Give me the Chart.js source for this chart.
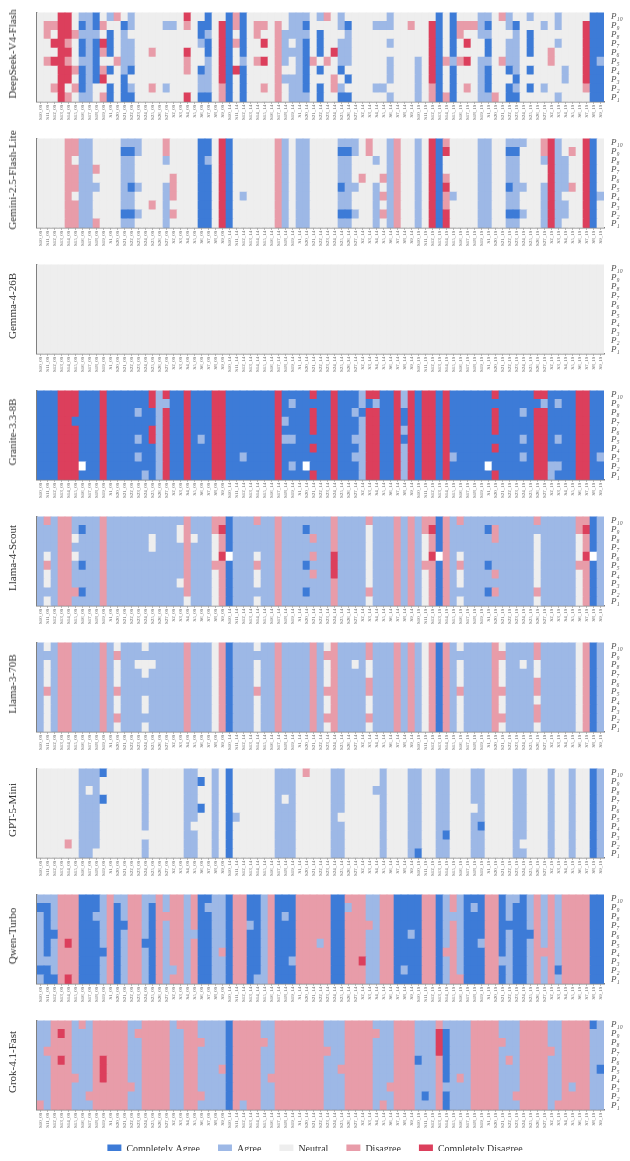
<!DOCTYPE html>
<html><head><meta charset="utf-8">
<script src="https://cdn.jsdelivr.net/npm/chart.js@4.4.1/dist/chart.umd.min.js"></script>
<style>
html,body{margin:0;padding:0;background:#fff;}
body{width:630px;height:1161px;position:relative;overflow:hidden;}
.panel{position:absolute;left:0;width:630px;height:126px;}
.title{position:absolute;left:12px;font-family:"Liberation Serif","Times New Roman",serif;font-size:11px;color:#333;white-space:nowrap;transform:translate(-50%,-50%) rotate(-90deg);}
#legendWrap{position:absolute;left:0;top:1126px;width:630px;height:50px;}
</style></head><body>
<script>
// ---------- data ----------
const statements = ['S10','S11','S12','S13','S14','S15','S16','S17','S18','S19','S1','S20','S21','S22','S23','S24','S25','S26','S27','S2','S3','S4','S5','S6','S7','S8','S9'];
const suffixes = ['09','14','19'];
const personas = ['P₁₀','P₉','P₈','P₇','P₆','P₅','P₄','P₃','P₂','P₁'];
const categories = ['Completely Agree','Agree','Neutral','Disagree','Completely Disagree'];
// codes: A = Completely Agree, a = Agree, . = Neutral, d = Disagree, D = Completely Disagree, w = no answer
// each model: rows from P10 (top) to P1 (bottom); each row written in blocks of 10 statement columns
const deepseekV4Flash = [
["...DD.aaA.","ad.a......",".D..A..AdA","......aaa.","ad.a......","a......A.A","...aa.da..","a...a....A","A"].join(''),
[".ddDD.AaAd","..Aa....aa",".d.AA.DAdA",".dd.d.aaA.","...aA...aa","a..d..DA.A","dddaA..aA.","..a.a...DA","A"].join(''),
[".d.DDdaaa.","A.a.......","...Aa.DA.A",".d..daaaa.","A...a.....","......DA.A","d..aa...a.","A.......DA","A"].join(''),
["..DDd.AaAD","A.aa......","...aA.DAdA","..D.da.aA.","A..aa.....","a.....DA.A",".D..A..aa.","A...a...DA","A"].join(''),
["...DD.AaAd","A.aa..d...",".D..A.DA.A","....daaaA.","A.Daa.....","......DA.A","....A..aa.","A..d....DA","A"].join(''),
[".dDDd.aaA.",".daa......",".d..a.DA.a",".dD.da.aAd",".d.aa.....","a...a.DAda","dD.aa.daa.","...d....DA","a"].join(''),
["...DDdAaAd","A.aA......",".d.Aa.DADA","....d..aA.","A..A......","a...a.DA.A","...aA..Aa.","A....a..DA","A"].join(''),
["...DD.AaAD","..A.......","...aa.DA.A","....daaaA.","..d.A.....","a...a.DA.A","...aA...A.",".....a..DA","A"].join(''),
["..dD.dAa..","A.Aa..d.a.","...aa.dA.A","..d.d.aaA.","A.da....aa","....a.dA.A",".d.aA..Aa.","A.a.....dA","A"].join(''),
["...Dd.aa.d","A.AA......",".D.AA.dA.A","....d.aaa.","A..AA.....","a...a.dAdA","...aad.AA.","....a....A","A"].join('')
];
const gemini25FlashLite = [
["....ddaa..","..aaa...d.","...AA.DA..","....da.aa.","...aaa.d..","ad..a.DAd.","...aa..aaa","..dDa...DA","."].join(''),
["....ddaa..","..AAa...d.","...AA.DA..","....da.aa.","...AAa.d..","ad..a.DAD.","...aa..AA.","..dDa.d.DA","."].join(''),
["....d.aa..","..aa....a.","...Aa.DA..","....da.aa.","...aa...a.","ad..a.DA..","...aa..aa.","..aDaa..DA","."].join(''),
["....ddaad.","..aa......","...AA.DA..","....da.aa.","...aa.....","ad..a.DA..","...aa..aa.","...Daa..DA","."].join(''),
["....ddaa..","..aa.....d","...AA.DA..","....da.aa.","...aa.d..d","ad..a.DAd.","...aa..aa.","...Daa..DA","."].join(''),
["....ddaaa.","..aAa...ad","...AA.DA..","....da.aa.","...Aaa..a.","ad..a.DAD.","...aa..Aaa","..aDaad.DA","."].join(''),
["....d.aa..","..aa....ad","...AA.DA.a","....da.aa.","...aa...ad","ad..a.DAda","...aa..aa.","..aDa...DA","a"].join(''),
["....ddaa..","..aa..d.a.","...AA.DA..","....da.aa.","...aa...a.","ad..a.DAd.","...aa..aa.","..aDaa..DA","."].join(''),
["....ddaa..","..AAa...ad","...AA.DA..","....da.aa.","...AAa..ad","ad..a.DAD.","...aa..AAa","..aDaa..DA","."].join(''),
["....ddaad.","..aa....a.","...AA.DA..","....da.aa.","...aa...a.","ad..a.DAD.","...aa..aa.","..aDa...DA","."].join('')
];
const gemma426B = [
["..........","..........","..........","..........","..........","..........","..........","..........","."].join(''),
["..........","..........","..........","..........","..........","..........","..........","..........","."].join(''),
["..........","..........","..........","..........","..........","..........","..........","..........","."].join(''),
["..........","..........","..........","..........","..........","..........","..........","..........","."].join(''),
["..........","..........","..........","..........","..........","..........","..........","..........","."].join(''),
["..........","..........","..........","..........","..........","..........","..........","..........","."].join(''),
["..........","..........","..........","..........","..........","..........","..........","..........","."].join(''),
["..........","..........","..........","..........","..........","..........","..........","..........","."].join(''),
["..........","..........","..........","..........","..........","..........","..........","..........","."].join(''),
["..........","..........","..........","..........","..........","..........","..........","..........","."].join('')
];
const granite33_8B = [
["AAADDDAAAD","AAAAAADaDA","ADAAADDAAA","AAAADAAAAD","AADAAAaDDA","ADaDADDADA","AAAAADAAAA","ADDAAAADDA","A"].join(''),
["AAADDDAAAD","AAAAAADaaA","ADAAADDAAA","AAAADAaAAA","AADAAAaAaA","ADaDADDADA","AAAAAAAAAA","AAaAaAADDA","A"].join(''),
["AAADDDAAAD","AAAAaAAaDA","ADAAADDAAA","AAAADAAAAD","AADAAaADDA","ADADADDADA","AAAAADAAAa","ADDAAAADDA","A"].join(''),
["AAADDAAAAD","AAAAAAAaDA","ADAAADDAAA","AAAADaAAAD","AADAAAaDDA","ADADADDADA","AAAAADAAAA","ADDAAAADDA","A"].join(''),
["AAADDDAAAD","AAAAAADaDA","ADAAADDAAA","AAAADAAAAD","AADAAAaDDA","ADaDADDADA","AAAAADAAAA","ADDAAAADDA","A"].join(''),
["AAADDDAAAD","AAAAaADaDA","ADAaADDAAA","AAAADaaAAA","AADAAaaDDA","ADADADDADA","AAAAAAAAAa","ADDAaAADDA","A"].join(''),
["AAADDDAAAD","AAAAAAAaDA","ADAAADDAAA","AAAADAAAAD","AADAAAaDDA","ADaDADDADA","AAAAADAAAA","ADDAAAADDA","A"].join(''),
["AAADDDAAAD","AAAAaAAaDA","ADAAADDAAa","AAAADAAAAA","AADAAaaDDA","ADaDADDADa","AAAAAAAAAa","ADDAAAADDA","a"].join(''),
["AAADDDwAAD","AAAAAAAaDA","ADAAADDAAA","AAAADAaAwA","AADAAAaDDA","ADaDADDADA","AAAAwAAAAA","ADDaaAADDA","A"].join(''),
["AAADDDAAAD","AAAAAaAaDA","ADAAADDAAA","AAAADAAAAD","AADAAAaDDA","ADaDADDADA","AAAAADAAAA","ADDaAAADDA","A"].join('')
];
const llama4Scout = [
["adaddaaaad","aaaaaaaaaa","adaaaddAaa","adaadaaaaa","aadaaaadaa","adadaddAda","daaaaaaaaa","adaaaaaddA","a"].join(''),
["aaaddaAaad","aaaaaaaaaa",".daaadDAaa","aaaadaaaAa","aadaaaa.aa","adadadDAda","aaaaAdaaaa","aaaaaaadDA","a"].join(''),
["aaadd.aaad","aaaaaa.aaa",".d.aa.dAaa","aaaadaaaad","aadaaaa.aa","adada.dAda","aaaaadaaaa","a.aaaaa.dA","a"].join(''),
["aaaddaaaad","aaaaaa.aaa","adaaa.dAaa","aaaadaaaaa","aadaaaa.aa","adada.dAda","aaaaaaaaaa","a.aaaaa.dA","a"].join(''),
["a.add.aaad","aaaaaaaaaa","adaaa.Dwaa","a.aadaaaad","aaDaaaa.aa","adada.Dwda",".aaaaaaaaa","a.aaaaa.Dw","a"].join(''),
["adaddaAaad","aaaaaaaaaa","adaaaddAaa","adaadaaaAa","aaDaaaa.aa","adadaddAda","daaaAaaaaa","a.aaaaaddA","a"].join(''),
["a.addaaaad","aaaaaaaaaa","adaaa.dAaa","a.aadaaaad","aaDaaaa.aa","adada.dAda",".aaaadaaaa","a.aaaaa.dA","a"].join(''),
["a.addaaaad","aaaaaaaaaa",".daaa.dAaa","a.aadaaaaa","aadaaaa.aa","adada.dAda",".aaaaaaaaa","a.aaaaa.dA","a"].join(''),
["aaadddAaad","aaaaaaaaaa","adaaa.dAaa","aaaadaaaAa","aadaaaadaa","adada.dAda","aaaaAdaaaa","adaaaaa.dA","a"].join(''),
["a.addaaaad","aaaaaaaaaa","a.aaa.dAaa","a.aadaaaaa","aadaaaa.aa","adada.dAda",".aaaaaaaaa","a.aaaaa.dA","a"].join('')
];
const llama3_70B = [
["a.addaaaad","a.aaa.aaaa","adaaa.dAaa","a.aadaaaad","a.daaaadaa","adada.dAda",".aaaad.aaa","adaaaaa.dA","a"].join(''),
["aaaddaaaad","adaaaaaaaa","adaaa.dAaa","aaaadaaaad","addaaaadaa","adada.dAda","aaaaaddaaa","adaaaaa.dA","a"].join(''),
["a.addaaaad","a.aa...aaa","adaaa.dAaa","a.aadaaaad","a.daa.a.aa","adada.dAda",".aaaad.aa.","a.aaaaa.dA","a"].join(''),
["a.addaaaad","a.aaa.aaaa","adaaa.dAaa","a.aadaaaad","a.daaaa.aa","adada.dAda",".aaaad.aaa","a.aaaaa.dA","a"].join(''),
["a.addaaaad","a.aaaaaaaa","adaaa.dAaa","a.aadaaaad","a.daaaadaa","adada.dAda",".aaaad.aaa","adaaaaa.dA","a"].join(''),
["adaddaaaad","adaaaaaaaa","adaaa.dAaa","adaadaaaad","addaaaadaa","adada.dAda","daaaaddaaa","adaaaaa.dA","a"].join(''),
["a.addaaaad","a.aaa.aaaa","adaaa.dAaa","a.aadaaaad","a.daaaa.aa","adada.dAda",".aaaad.aaa","a.aaaaa.dA","a"].join(''),
["a.addaaaad","a.aaa.aaaa","adaaa.dAaa","a.aadaaaad","a.daaaa.aa","adada.dAda",".aaaad.aaa","adaaaaa.dA","a"].join(''),
["a.addaaaad","adaaaaaaaa","adaaa.dAaa","a.aadaaaad","addaaaadaa","adada.dAda",".aaaaddaaa","adaaaaa.dA","a"].join(''),
["a.addaaaad","a.aaa.aaaa","adaaa.dAaa","a.aadaaaad","a.daaaa.aa","adada.dAda",".aaaad.aaa","a.aaaaa.dA","a"].join('')
];
const gpt5Mini = [
["......aaaA",".....a....",".aa..a.A..","....aaa.d.","..aa.....a","...aa..aa.","..aa....aa","...a..a..A","a"].join(''),
["......aaa.",".....a....",".aaA.a.A..","....aaa...","..aa.....a","...aa..aa.","..aa....aa","...a..a..A","a"].join(''),
["......a.a.",".....a....",".aa..a.A..","....aaa...","..aa....aa","...aa..aa.","..aa....aa","...a..a..A","a"].join(''),
["......aaaA",".....a....",".aa..a.A..","....a.a...","..aa.....a","...aa..aa.","..aa....aa","...a..a..A","a"].join(''),
["......aaa.",".....a....",".aaA.a.A..","....aaa...","..aa.....a","...aa..aa.","...a....aa","...a..a..A","a"].join(''),
["......aaa.",".....a....",".aa..a.Aa.","....aaa...","..a......a","...aa..aa.","..aa....aa","...a..a..A","a"].join(''),
["......aaa.",".....a....",".a...a.A..","....aaa...","..aa.....a","...aa..aa.","..aA....aa","...a..a..A","a"].join(''),
["......aaa.","..........",".aa..a.A..","....aaa...","..aa.....a","...aa..aA.","..aa....aa","...a..a..A","a"].join(''),
["....d.aaa.",".....a....",".aa..a.A..","....aaa...","..aa.....a","...aa..aa.","..aa....a.","...a..a..A","a"].join(''),
["......aa..",".....a....",".aa..a.A..","....aaa...","..aa.....a","...aA..aa.","..aa....aa","...a..a..A","a"].join('')
];
const qwenTurbo = [
["aaadddAAAa","daaddaadad","dadAAaaAdd","AAadAAAddd","ddAAdddaad","dAAAAddAad","aAAAddAaaA","adadaddddA","A"].join(''),
["AAadddAAAa","dAaddaAdad","dadAaaaAdd","AAadAAAddd","ddAAaddaad","dAAAAddAad","aAaAddAaAA","adadaddddA","A"].join(''),
["aAadddAAaa","dAaddaAddd","dadAAaaAdd","AAadAaAddd","ddAAdddaad","dAAAAddAaa","aAAAddAaAA","adadaddddA","A"].join(''),
["aAadddAAAa","dAAddaAdad","dadAAaaAdd","aAadAAAddd","ddAAddddad","dAAAAddAad","aAAAddAAAA","adadaddddA","A"].join(''),
["aAAdddAAAa","dAaddaAdad","daaAAaaAdd","AAadAAAddd","ddAAdddaad","dAAaAddAad","aAAAddAaAA","AdadaddddA","A"].join(''),
["aAadDdAAAa","dAaddAAdad","dadAAaaAdd","AAadAAAddd","adAAdddaad","dAAAAddAad","aAAaddAaAA","adadaddddA","A"].join(''),
["aAadddAAAA","dAaddaAdad","dadAAadAdd","AAadAAAddd","ddAAdddaad","dAAAAddAdd","aAAAddAaAA","adddaddddA","A"].join(''),
["aaadddAAAa","dAaddaAdad","dadAAaaAdd","AAadAAaddd","ddAAddDaad","dAAAAddAad","aAAAddaaAA","adadaddddA","A"].join(''),
["AAadddAAAa","dAaddaAdaa","dadAAaaAdd","AAadAAAddd","ddAAdddaad","dAaAAddAad","aAAAddAaAA","adadAddddA","A"].join(''),
["aAAdDdAAAa","dAaddaAdad","dadAAaaAdd","AaadAAAddd","ddAAdddaad","dAAAAddAad","dAAAddAaAA","adadaddddA","A"].join('')
];
const grok41Fast = [
["aadddadadd","dddaadddda","dddaaaaAdd","ddaadddddd","daaaddddaa","adddaaadaa","aaddddaaad","dddaaddddA","a"].join(''),
["aadDdaaadd","dddaddddda","addaaaaAdd","ddaadddddd","daaaddddda","adddaaaDAa","aaddddaaad","dddaadddda","a"].join(''),
["aadddaaadd","dddaadddda","adddaaaAdd","dddadddddd","daaaddddaa","adddaaaDAa","aadddddaad","dddaadddda","a"].join(''),
["addddaaadd","dddaadddda","addaaaaAdd","ddaadddddd","ddaaddddaa","adddaaaDAa","aaddddaaad","ddddadddda","a"].join(''),
["aadDdaaadD","dddaadddda","addaaaaAdd","ddaadddddd","daaaddddaa","adddAaadAa","aaddddadad","dddaadddda","a"].join(''),
["aadddaaadD","dddaadddda","addaaadAdd","ddaadddddd","daadddddaa","adddaaadAa","aaddddaaad","dddaadddda","A"].join(''),
["aaddddaadD","dddaadddda","addaaaaAdd","ddaddddddd","daaaddddaa","adddaaadAa","daddddaaad","dddaadddda","a"].join(''),
["aadddaaadd","ddddadddda","addaaaaAdd","ddaadddddd","daaaddddaa","ddddaaadaa","aaddddaaad","dddaadadda","a"].join(''),
["aadddaaddd","dddaadddda","adddaaaAdd","ddaadddddd","daaaddddaa","adddaAadAa","aaddddaadd","dddaadddda","a"].join(''),
["dadddaaadd","dddaadddda","addaaaaAda","ddaadddddd","daaaddddad","adddaaadAa","aaddddaaad","dddaddddda","a"].join('')
];
const modelNames = ['DeepSeek-V4-Flash','Gemini-2.5-Flash-Lite','Gemma-4-26B','Granite-3.3-8B','Llama-4-Scout','Llama-3-70B','GPT-5-Mini','Qwen-Turbo','Grok-4.1-Fast'];
const modelData = [deepseekV4Flash, gemini25FlashLite, gemma426B, granite33_8B, llama4Scout, llama3_70B, gpt5Mini, qwenTurbo, grok41Fast];

// ---------- drawing ----------
const COLORS = {A:'#3d7bd7', a:'#9db8e6', '.':'#eeeeee', d:'#e89ca9', D:'#dc3f5c', w:'#ffffff'};
const catColors = [COLORS.A, COLORS.a, COLORS['.'], COLORS.d, COLORS.D];
const xLabels = [];
for (const s of suffixes) for (const st of statements) xLabels.push(st + '_' + s);
const NC = xLabels.length;
const SERIF = '"Liberation Serif","Times New Roman",serif';

function makePanel(idx, name, rows) {
  const wrap = document.createElement('div');
  wrap.className = 'panel';
  wrap.style.top = (idx * 126) + 'px';
  const cv = document.createElement('canvas');
  cv.width = 630; cv.height = 126;
  wrap.appendChild(cv);
  document.body.appendChild(wrap);
  const t = document.createElement('div');
  t.className = 'title';
  t.textContent = name;
  t.style.top = (idx * 126 + 54) + 'px';
  document.body.appendChild(t);

  const datasets = [];
  for (let r = rows.length - 1; r >= 0; r--) {
    const codes = rows[r].split('');
    datasets.push({
      label: personas[r],
      data: codes.map(() => 1),
      backgroundColor: codes.map(c => COLORS[c] || COLORS['.']),
      borderWidth: 0,
      barPercentage: 1,
      categoryPercentage: 1
    });
  }
  new Chart(cv, {
    type: 'bar',
    data: { labels: xLabels, datasets },
    options: {
      responsive: false, animation: false, events: [],
      layout: { padding: { left: 37, top: 6, right: 0, bottom: 0 } },
      plugins: { legend: { display: false }, tooltip: { enabled: false } },
      scales: {
        x: {
          stacked: true,
          grid: { display: true, drawOnChartArea: false, drawTicks: true, tickLength: 2, color: '#9a9a9a', offset: false },
          border: { display: true, color: '#808080', width: 1.5 },
          ticks: { autoSkip: false, maxRotation: 90, minRotation: 90, padding: 1, color: '#666', font: { family: SERIF, size: 5 } },
          afterFit: s => { s.height = 24.3; }
        },
        y: {
          stacked: true, min: 0, max: 10,
          grid: { display: false },
          border: { display: true, color: '#808080', width: 1.5 },
          ticks: { display: false },
          afterFit: s => { s.width = 0; }
        },
        y2: {
          type: 'category', position: 'right', labels: personas, offset: true,
          grid: { display: false, drawTicks: false },
          border: { display: false },
          ticks: { autoSkip: false, padding: 7, color: '#555', font: { family: SERIF, size: 9, style: 'italic' } },
          afterFit: s => { s.width = 26; }
        }
      }
    }
  });
}
modelNames.forEach((n, i) => makePanel(i, n, modelData[i]));

// legend
const lw = document.createElement('div'); lw.id = 'legendWrap';
const lc = document.createElement('canvas'); lc.width = 630; lc.height = 50;
lw.appendChild(lc); document.body.appendChild(lw);
new Chart(lc, {
  type: 'bar',
  data: { labels: ['x'], datasets: categories.map((c, i) => ({ label: c, data: [0], backgroundColor: catColors[i], borderWidth: 0 })) },
  options: {
    responsive: false, animation: false, events: [],
    layout: { padding: 0 },
    plugins: {
      tooltip: { enabled: false },
      legend: { display: true, position: 'top', labels: { boxWidth: 14, boxHeight: 9, padding: 18, color: '#333', font: { family: SERIF, size: 10 } } }
    },
    scales: { x: { display: false }, y: { display: false } }
  }
});
</script>
</body></html>
